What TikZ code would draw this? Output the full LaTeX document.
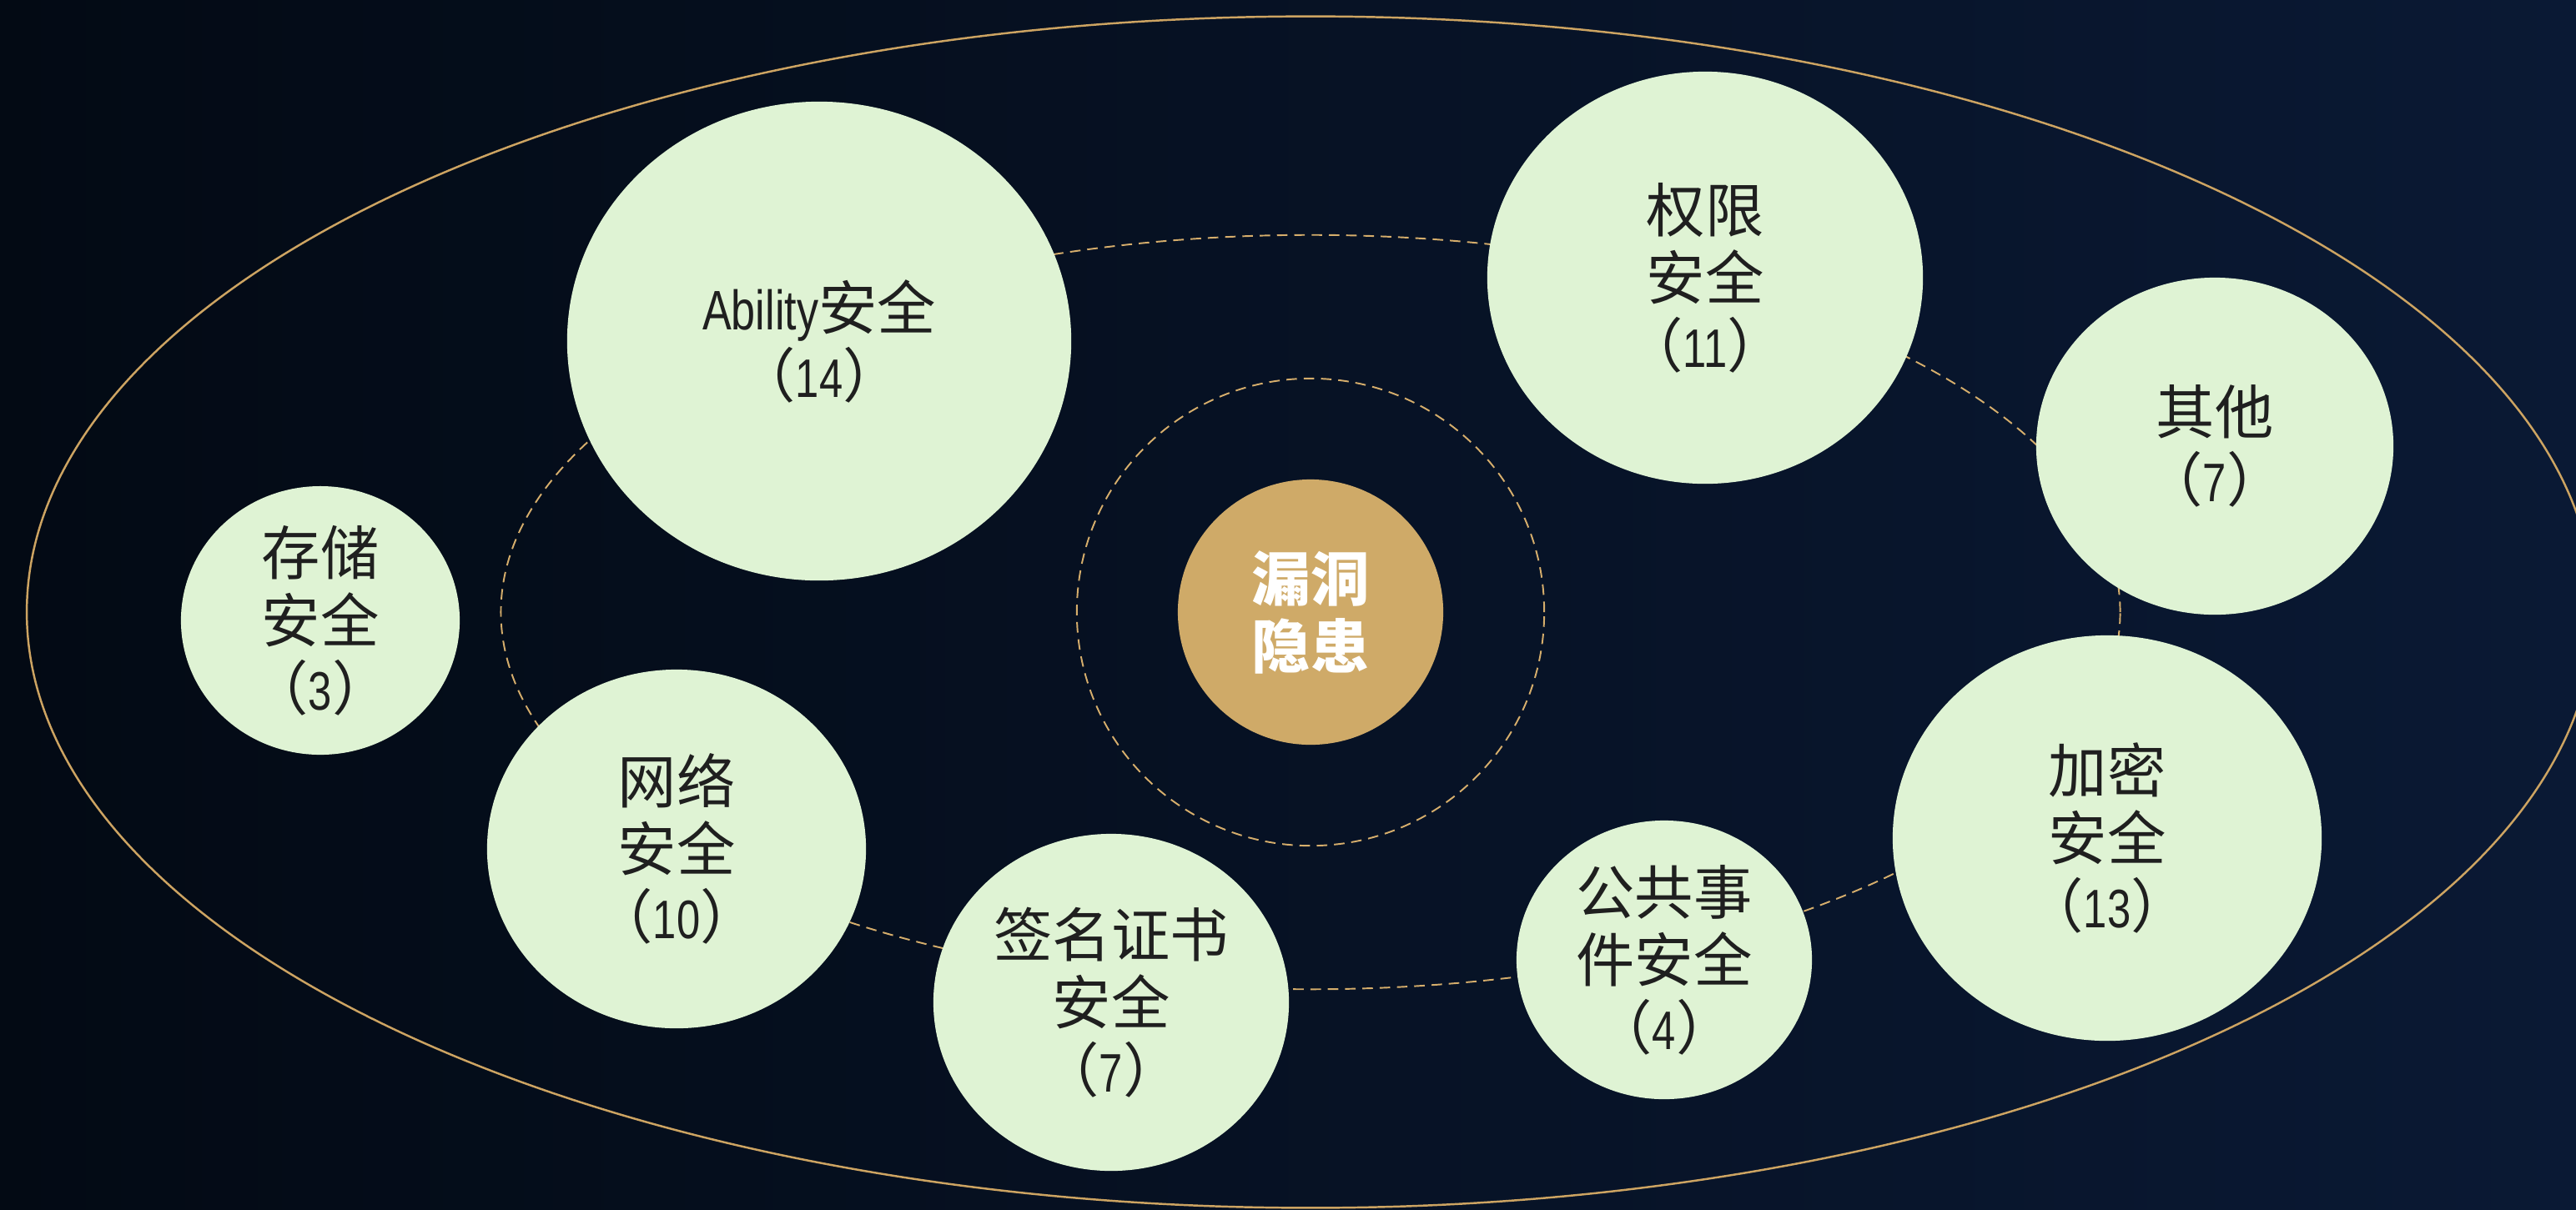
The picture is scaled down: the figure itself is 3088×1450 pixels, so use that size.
\documentclass[tikz,border=0pt]{standalone}
\usepackage{fontspec}
\setmainfont{Noto Sans CJK SC}
\newfontfamily\narrow[FakeStretch=0.78]{Liberation Sans}
\usetikzlibrary{shapes.geometric}
\definecolor{bgleft}{HTML}{030A14}
\definecolor{bgright}{HTML}{0A1934}
\definecolor{leaf}{HTML}{DFF3D4}
\definecolor{ink}{HTML}{1F1F1F}
\definecolor{gold}{HTML}{CFAA68}
\definecolor{dashgold}{HTML}{D6AE6C}
\definecolor{rimgold}{HTML}{CDA462}
\newcommand\tally[1]{（{\narrow\fontsize{18.5}{23}\selectfont #1}）}

\begin{document}
\begin{tikzpicture}[
                    x=0.01cm, y=-0.01cm,
                    bubble/.style={ellipse, fill=leaf, text=ink, inner sep=0pt, align=center,
                                   font=\fontsize{20}{23}\selectfont},
                    core/.style={circle, fill=gold, text=white, minimum size=3.18cm, inner sep=0pt,
                                 align=center, font=\bfseries\fontsize{20}{23}\selectfont},
                    orbit/.style={draw=dashgold, line width=0.55pt, dash pattern=on 3.6pt off 2.3pt},
                    rim/.style={draw=rimgold, line width=0.7pt},
                ]
                \useasboundingbox (0,0) rectangle (3088,1450);
                \clip (0,0) rectangle (3088,1450);
                \shade[left color=bgleft, right color=bgright] (0,0) rectangle (3088,1450);
                \coordinate (hub) at (1571,734);
                \draw[rim] (hub) ellipse [x radius=15.38cm, y radius=7.14cm];
                \draw[orbit] (hub) ellipse [x radius=9.70cm, y radius=4.52cm];
                \draw[orbit] (hub) circle [radius=2.80cm];

                \node[bubble, minimum width=6.04cm, minimum height=5.74cm] (ability) at (982,409)
                    {{\narrow\fontsize{19}{23}\selectfont Ability}安全\\\tally{14}};
                \node[bubble, minimum width=5.22cm, minimum height=4.94cm] (perm) at (2044,333)
                    {权限\\安全\\\tally{11}};
                \node[bubble, minimum width=4.28cm, minimum height=4.04cm] (other) at (2655,535)
                    {其他\\\tally{7}};
                \node[bubble, minimum width=3.34cm, minimum height=3.16cm] (store) at (384,744)
                    {存储\\安全\\\tally{3}};
                \node[bubble, minimum width=4.54cm, minimum height=4.30cm] (net) at (811,1018)
                    {网络\\安全\\\tally{10}};
                \node[bubble, minimum width=4.26cm, minimum height=4.04cm] (sign) at (1332,1202)
                    {签名证书\\安全\\\tally{7}};
                \node[bubble, minimum width=3.54cm, minimum height=3.34cm] (event) at (1995,1151)
                    {公共事\\件安全\\\tally{4}};
                \node[bubble, minimum width=5.14cm, minimum height=4.86cm] (crypt) at (2526,1005)
                    {加密\\安全\\\tally{13}};

                \node[core] (vuln) at (hub) {漏洞\\隐患};
                \end{tikzpicture}
\end{document}
